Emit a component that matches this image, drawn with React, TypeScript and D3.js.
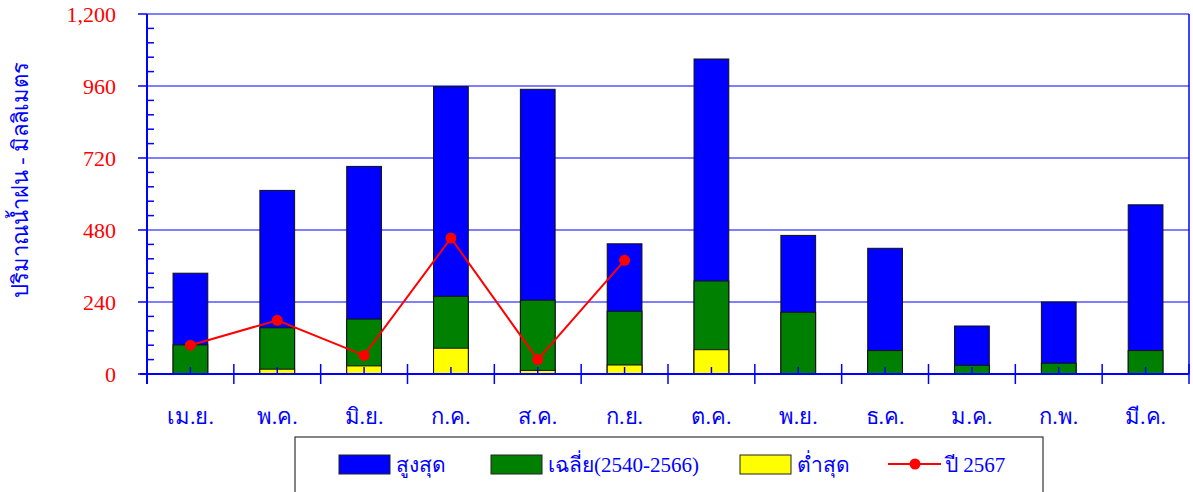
import { useEffect, useRef } from 'react';
import * as d3 from 'd3';

// months (April .. March)
const months = ['เม.ย.', 'พ.ค.', 'มิ.ย.', 'ก.ค.', 'ส.ค.', 'ก.ย.', 'ต.ค.', 'พ.ย.', 'ธ.ค.', 'ม.ค.', 'ก.พ.', 'มี.ค.'];

// rainfall, mm
const maxRain = [336, 612, 692, 958, 949, 434, 1050, 462, 419, 160, 240, 564];
const avgRain = [97, 154, 183, 259, 246, 209, 310, 206, 78, 29, 36, 78];
const minRain = [0, 16, 27, 86, 12, 30, 81, 0, 0, 0, 0, 0];
const rain2567 = [96, 179, 62, 453, 48, 379];

const yTicks = [0, 240, 480, 720, 960, 1200];

const legendItems = [
  { label: 'สูงสุด', color: '#0000ff', type: 'bar' },
  { label: 'เฉลี่ย(2540-2566)', color: '#008000', type: 'bar' },
  { label: 'ต่ำสุด', color: '#ffff00', type: 'bar' },
  { label: 'ปี 2567', color: '#ff0000', type: 'line' },
];

const W = 1193;
const H = 492;
const FONT = "'Liberation Serif', 'Times New Roman', 'DejaVu Serif', serif";

export default function App() {
  const svgRef = useRef<SVGSVGElement>(null);

  useEffect(() => {
    // @ts-ignore
    const svg = d3.select<SVGSVGElement, unknown>(svgRef.current);
    svg.selectAll('*').remove();

    const left = 147, right = 1189, top = 14, bottom = 374;

    const x = d3.scaleBand<string>().domain(months).range([left, right]).paddingInner(0).paddingOuter(0);
    const y = d3.scaleLinear().domain([0, 1200]).range([bottom, top]);
    const bw = x.bandwidth() * 0.4;
    const cx = (m: string) => (x(m) as number) + x.bandwidth() / 2;

    // grid lines
    svg.append('g')
      .selectAll('line')
      .data(yTicks.filter(t => t > 0))
      .enter()
      .append('line')
      .attr('x1', left).attr('x2', right)
      .attr('y1', d => y(d)).attr('y2', d => y(d))
      .attr('stroke', '#0000ff').attr('stroke-width', 1.2);

    // right border
    svg.append('line')
      .attr('x1', right).attr('x2', right).attr('y1', top).attr('y2', bottom)
      .attr('stroke', '#0000ff').attr('stroke-width', 1.5);

    // bars: max, then avg, then min drawn over each other
    const series = [
      { values: maxRain, color: '#0000ff' },
      { values: avgRain, color: '#008000' },
      { values: minRain, color: '#ffff00' },
    ];
    series.forEach(s => {
      svg.append('g')
        .selectAll('rect')
        .data(months.map((m, i) => ({ m, v: s.values[i] })).filter(d => d.v > 0))
        .enter()
        .append('rect')
        .attr('x', d => cx(d.m) - bw / 2)
        .attr('width', bw)
        .attr('y', d => y(d.v))
        .attr('height', d => y(0) - y(d.v))
        .attr('fill', s.color)
        .attr('stroke', '#111')
        .attr('stroke-width', 1);
    });

    // y axis
    const ya = svg.append('g');
    ya.append('line')
      .attr('x1', left).attr('x2', left).attr('y1', top).attr('y2', bottom + 10)
      .attr('stroke', '#0000ff').attr('stroke-width', 2);
    ya.selectAll('line.major')
      .data(yTicks)
      .enter()
      .append('line')
      .attr('class', 'major')
      .attr('x1', left - 9).attr('x2', left)
      .attr('y1', d => y(d)).attr('y2', d => y(d))
      .attr('stroke', '#0000ff').attr('stroke-width', 1.5);
    ya.selectAll('line.minor')
      .data(d3.range(0, 1200, 48).filter(v => v % 240 !== 0))
      .enter()
      .append('line')
      .attr('class', 'minor')
      .attr('x1', left).attr('x2', left + 7)
      .attr('y1', d => y(d)).attr('y2', d => y(d))
      .attr('stroke', '#0000ff').attr('stroke-width', 1.5);
    ya.selectAll('text')
      .data(yTicks)
      .enter()
      .append('text')
      .attr('x', 116)
      .attr('y', d => y(d))
      .attr('dy', '0.35em')
      .attr('text-anchor', 'end')
      .attr('fill', '#ff0000')
      .attr('font-family', FONT)
      .attr('font-size', 22)
      .text(d => d3.format(',')(d));

    svg.append('text')
      .attr('transform', `translate(28,180) rotate(-90)`)
      .attr('text-anchor', 'middle')
      .attr('fill', '#0000ff')
      .attr('font-family', FONT)
      .attr('font-size', 22)
      .text('ปริมาณน้ำฝน - มิลลิเมตร');

    // x axis
    const xa = svg.append('g');
    xa.append('line')
      .attr('x1', left - 7).attr('x2', right).attr('y1', bottom).attr('y2', bottom)
      .attr('stroke', '#0000ff').attr('stroke-width', 2);
    xa.selectAll('line.bound')
      .data(months.map(m => x(m) as number).concat([right]))
      .enter()
      .append('line')
      .attr('class', 'bound')
      .attr('x1', d => d).attr('x2', d => d)
      .attr('y1', bottom - 10).attr('y2', bottom + 10)
      .attr('stroke', '#0000ff').attr('stroke-width', 1.5);
    xa.selectAll('line.mid')
      .data(months)
      .enter()
      .append('line')
      .attr('class', 'mid')
      .attr('x1', d => cx(d)).attr('x2', d => cx(d))
      .attr('y1', bottom - 7).attr('y2', bottom)
      .attr('stroke', '#0000ff').attr('stroke-width', 1.5);
    xa.selectAll('text')
      .data(months)
      .enter()
      .append('text')
      .attr('x', d => cx(d))
      .attr('y', 424)
      .attr('text-anchor', 'middle')
      .attr('fill', '#0000ff')
      .attr('font-family', FONT)
      .attr('font-size', 22)
      .text(d => d);

    // 2567 line
    const pts = rain2567.map((v, i) => ({ m: months[i], v }));
    const line = d3.line<{ m: string; v: number }>().x(d => cx(d.m)).y(d => y(d.v));
    svg.append('path')
      .datum(pts)
      .attr('d', line)
      .attr('fill', 'none')
      .attr('stroke', '#ff0000')
      .attr('stroke-width', 2);
    svg.append('g')
      .selectAll('circle')
      .data(pts)
      .enter()
      .append('circle')
      .attr('cx', d => cx(d.m))
      .attr('cy', d => y(d.v))
      .attr('r', 5.5)
      .attr('fill', '#ff0000');

    // legend
    const lg = svg.append('g');
    lg.append('rect')
      .attr('x', 295).attr('y', 437).attr('width', 748).attr('height', 70)
      .attr('fill', '#fff').attr('stroke', '#333').attr('stroke-width', 1.2);
    const itemX = [339, 491, 740, 888];
    legendItems.forEach((it, i) => {
      const g = lg.append('g').attr('transform', `translate(${itemX[i]},0)`);
      if (it.type === 'bar') {
        g.append('rect')
          .attr('x', 0).attr('y', 455).attr('width', 51).attr('height', 19)
          .attr('fill', it.color).attr('stroke', '#222').attr('stroke-width', 1);
      } else {
        g.append('line')
          .attr('x1', 0).attr('x2', 53).attr('y1', 464).attr('y2', 464)
          .attr('stroke', it.color).attr('stroke-width', 2);
        g.append('circle').attr('cx', 27).attr('cy', 464).attr('r', 5.5).attr('fill', it.color);
      }
      g.append('text')
        .attr('x', 57)
        .attr('y', 472)
        .attr('fill', '#0000ff')
        .attr('font-family', FONT)
        .attr('font-size', 21)
        .text(it.label);
    });
  }, []);

  return (
    <svg
      ref={svgRef}
      width={W}
      height={H}
      style={{ position: 'absolute', top: 0, left: 0, background: '#fff' }}
    />
  );
}
